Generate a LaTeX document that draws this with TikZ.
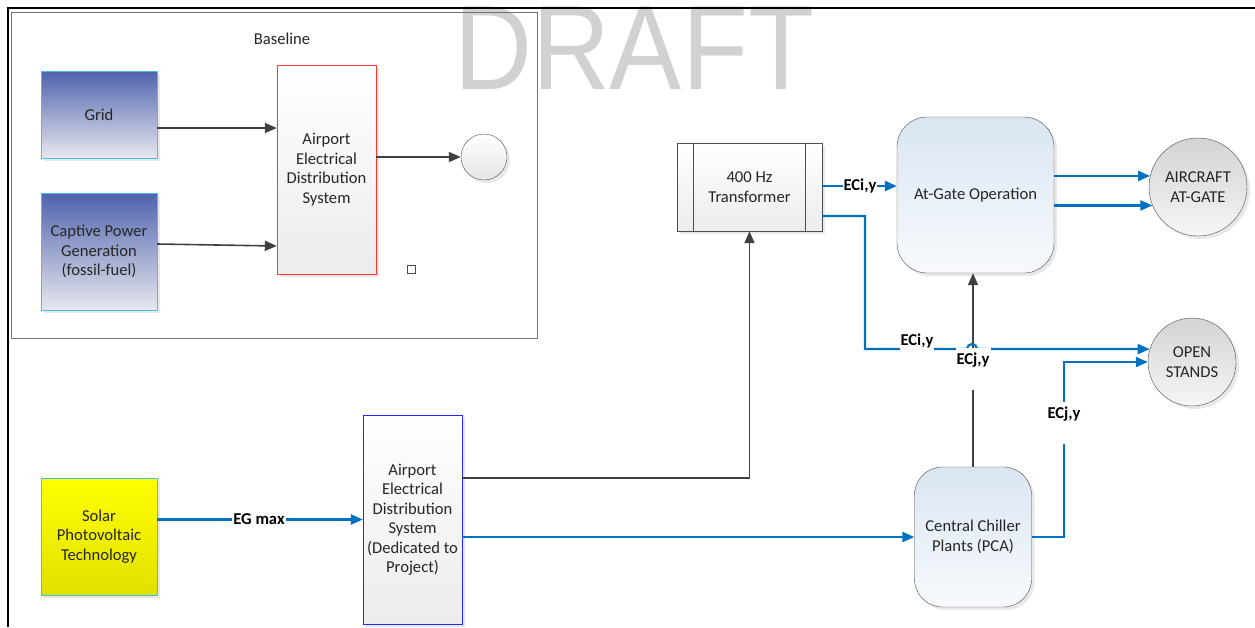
\documentclass[tikz,border=0pt]{standalone}
\usepackage{fontspec}
\setmainfont{Carlito}
\setsansfont{Liberation Sans}
\usepackage{graphicx}
\usetikzlibrary{arrows.meta}
\usetikzlibrary{shadows}

\newcommand{\dfont}{\fontsize{16.6}{19.5}\selectfont}
\definecolor{flowblue}{HTML}{0070C0}
\definecolor{flowgray}{HTML}{404040}
\definecolor{edgecyan}{HTML}{3FC0F0}
\definecolor{srctop}{HTML}{4F63AE}
\definecolor{srcbot}{HTML}{E8E8EE}
\definecolor{optop}{HTML}{DAE5F2}
\definecolor{opbot}{HTML}{F8FAFD}
\definecolor{sinktop}{HTML}{D3D3D3}
\definecolor{sinkbot}{HTML}{F6F6F6}

\tikzset{
  box/.style={draw, rectangle, align=center, inner sep=2pt, text=black!85, font=\dfont,
    drop shadow={shadow xshift=3pt, shadow yshift=-3pt, opacity=0.18}},
  srcbox/.style={box, draw=edgecyan, top color=srctop, bottom color=srcbot, minimum width=116pt},
  distbox/.style={box, top color=white, bottom color=gray!15, minimum width=99pt, minimum height=209pt},
  opbox/.style={box, draw=black!70, rounded corners=28pt, top color=optop, bottom color=opbot},
  sink/.style={box, circle, draw=black!70, align=center, top color=sinktop, bottom color=sinkbot},
  garrow/.style={->, draw=flowgray, line width=1.6pt},
  barrow/.style={->, draw=flowblue, line width=2.2pt},
  lbl/.style={font=\bfseries\dfont, fill=white, inner sep=1pt, text=black},
  lblgap/.style={lbl, anchor=north, inner ysep=5pt, text depth=20pt},
}

\begin{document}
\begin{tikzpicture}[x=1pt, y=-1pt, >={Triangle[length=12pt,width=10pt]}]
  \useasboundingbox (0,0) rectangle (1255,627);
  %% watermark
  \node[font=\sffamily\fontsize{120}{120}\selectfont, text=black!18, inner sep=0pt, anchor=base,
    text height=85pt, text depth=0pt] (draft) at (634,89) {\scalebox{0.9}[1]{DRAFT}};
  %% page frame
  \draw[line width=2.5pt] (8,627) -- (8,8) -- (1255,8);

  %% Baseline
  \node[draw=black!55, line width=0.8pt, minimum width=526pt, minimum height=326pt] (basebox) at (274,175) {};
  \node[font=\dfont, text=black!85] (basetitle) at (282,39) {Baseline};
  \node[srcbox, minimum height=87pt] (grid) at (99,114.5) {Grid};
  \node[srcbox, minimum height=117pt] (captive) at (99,251.5) {Captive Power\\Generation\\(fossil-fuel)};
  \node[distbox, draw=red!80] (aeds) at (326.5,169.5) {Airport\\Electrical\\Distribution\\System};
  \node[sink, minimum size=46pt, top color=white, bottom color=gray!20] (outc) at (484,157) {};
  \node[draw=black!70, fill=white, minimum size=8pt, inner sep=0pt] (sq) at (411,269) {};
  \draw[garrow] (grid.east |- 0,128) -- (aeds.west |- 0,128);
  \draw[garrow] (captive.east |- 0,244) -- (aeds.west |- 0,246);
  \draw[garrow] (aeds.east |- outc.west) -- (outc.west);

  %% Project
  \node[box, draw=edgecyan, top color=yellow, bottom color=yellow!88!black,
    minimum width=116pt, minimum height=117pt] (solar) at (99,536.5) {Solar\\Photovoltaic\\Technology};
  \node[distbox, draw=blue!85] (aeds2) at (412.5,519.5) {Airport\\Electrical\\Distribution\\System\\(Dedicated to\\Project)};
  \node[box, draw=black!70, top color=white, bottom color=gray!15,
    minimum width=145pt, minimum height=88pt] (trans) at (749.5,187) {400 Hz\\Transformer};
  \draw[draw=black!70, line width=0.8pt] ([xshift=17pt]trans.north west) -- ([xshift=17pt]trans.south west);
  \draw[draw=black!70, line width=0.8pt] ([xshift=-17pt]trans.north east) -- ([xshift=-17pt]trans.south east);
  \node[opbox, rounded corners=30pt, minimum width=157pt, minimum height=156pt] (atgate) at (975.5,195) {At-Gate Operation};
  \node[opbox, minimum width=117pt, minimum height=140pt] (chiller) at (973,537) {Central Chiller\\Plants (PCA)};
  \node[sink, minimum size=98pt] (aircraft) at (1198,187) {AIRCRAFT\\AT-GATE};
  \node[sink, minimum size=88pt] (open) at (1192,362) {OPEN\\STANDS};

  %% flows
  \draw[barrow] (solar.east |- aeds2.west) -- (aeds2.west);
  \node[lbl] (egmax) at (259,519) {EG max};
  \draw[garrow] (aeds2.east |- 0,478) -| (trans.south);
  \draw[barrow] (aeds2.east |- chiller.west) -- (chiller.west);
  \draw[barrow] (trans.east |- 0,186) -- (atgate.west |- 0,186);
  \node[lbl] (ecitop) at (860,186) {ECi,y};
  \draw[barrow] (atgate.east |- aircraft.167) -- (aircraft.167);
  \draw[barrow] (atgate.east |- aircraft.202) -- (aircraft.202);
  \draw[garrow] (chiller.north) -- (atgate.south -| chiller.north);
  \draw[barrow] (trans.east |- 0,216) -- (865,216) -- (865,349) -- (967,349)
    arc[start angle=180, end angle=0, radius=5pt] -- (open.163);
  \node[lbl, inner ysep=3pt] (ecilow) at (917,341) {ECi,y};
  \node[lblgap] (ecjmid) at (973,348) {ECj,y};
  \draw[barrow] (chiller.east) -| (1064,362) -- (open.west);
  \node[lblgap] (ecjright) at (1064,402) {ECj,y};
\end{tikzpicture}
\end{document}
